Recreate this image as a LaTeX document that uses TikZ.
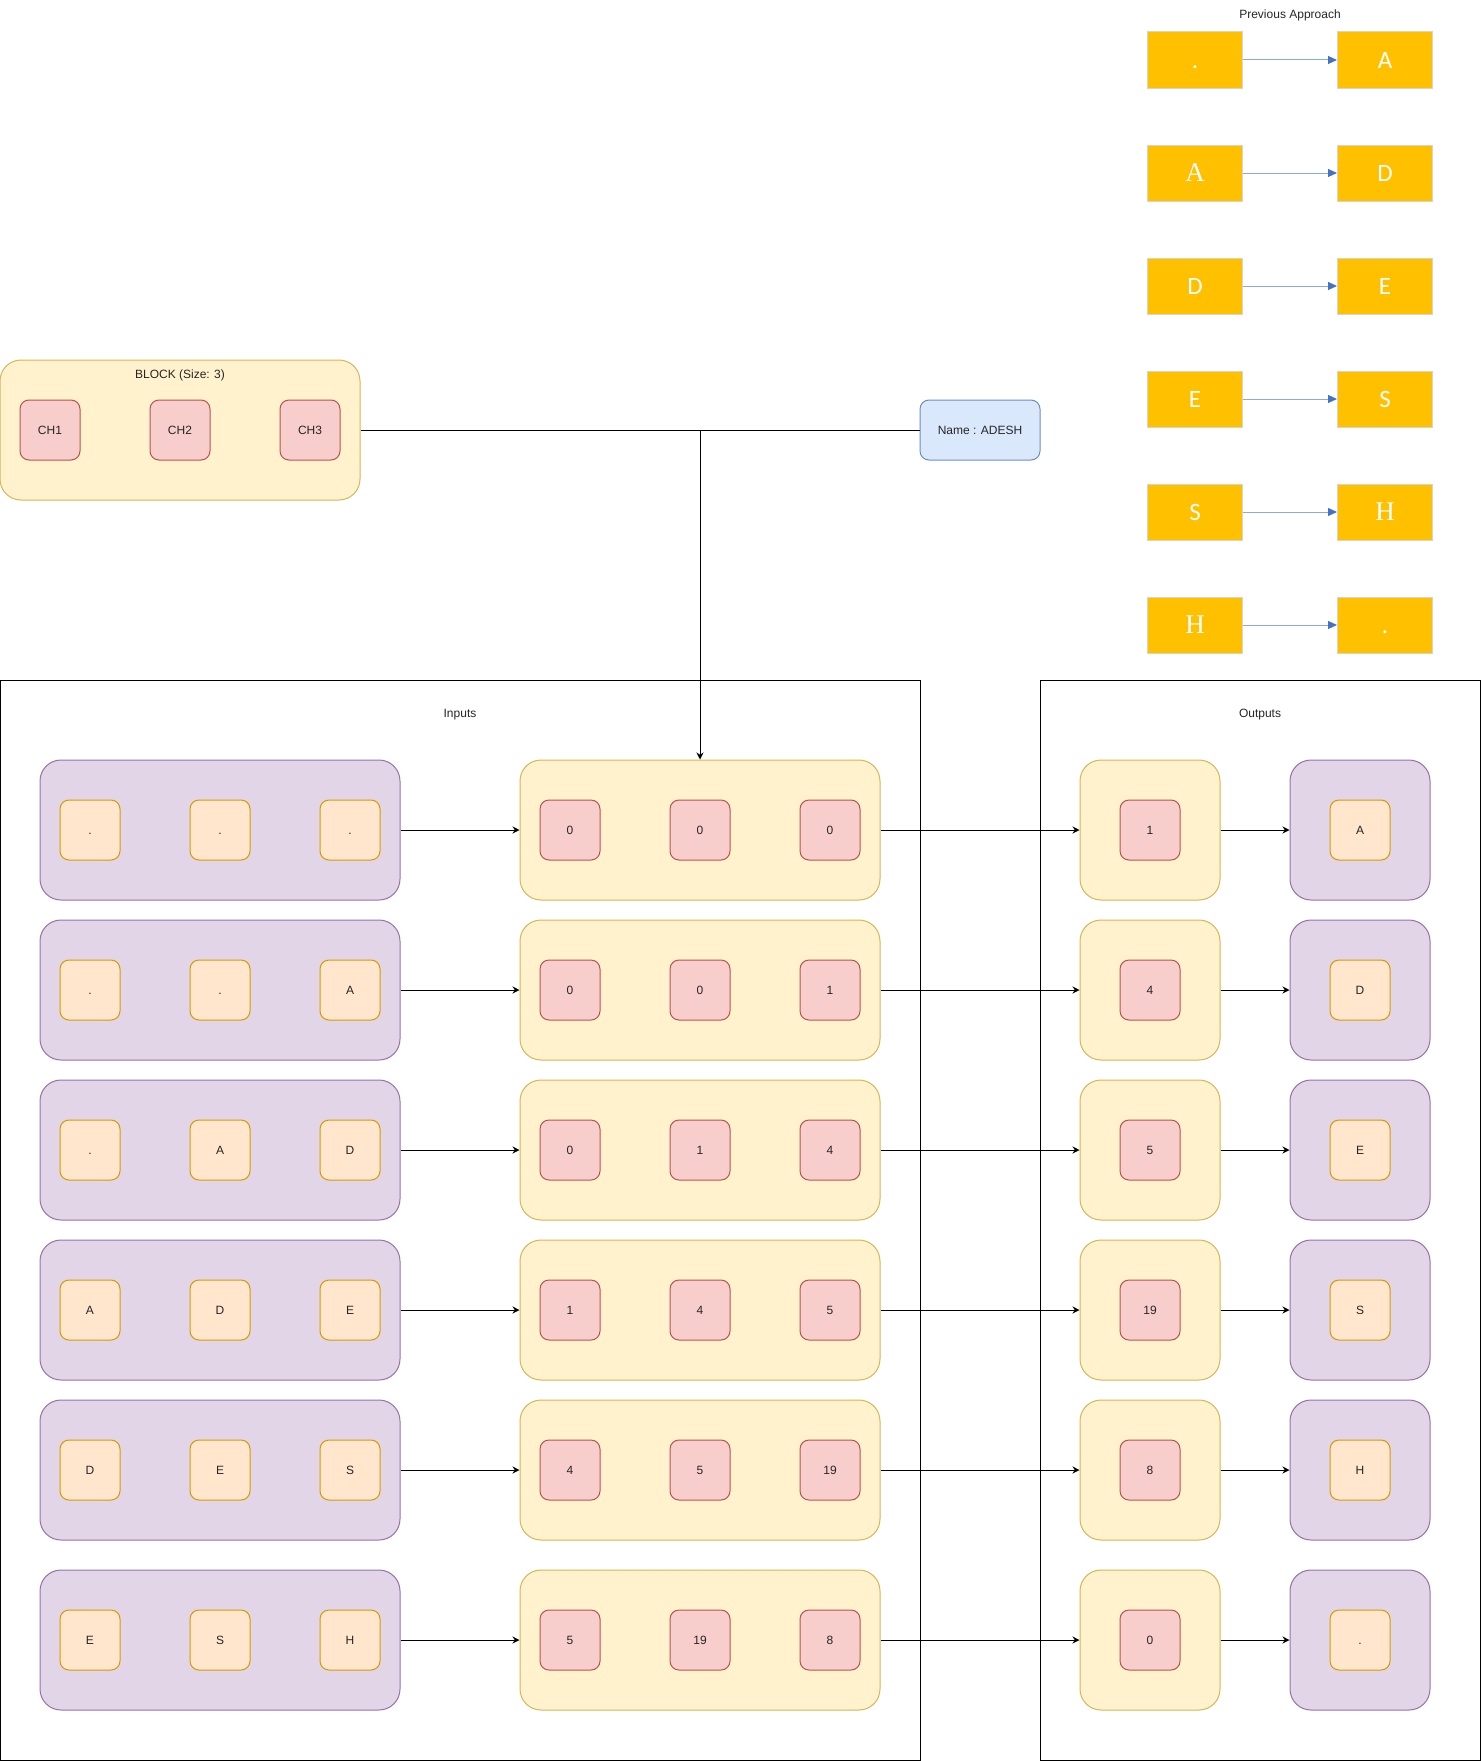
\documentclass[tikz,border=0pt]{standalone}
\usepackage{fontspec}
\setmainfont{Liberation Sans}
\newfontfamily\goldsansfam{Carlito}
\newfontfamily\goldseriffam{Liberation Serif}
\usetikzlibrary{arrows.meta}
\definecolor{yelfill}{HTML}{FFF2CC}
\definecolor{yeldraw}{HTML}{D6B656}
\definecolor{purfill}{HTML}{E1D5E7}
\definecolor{purdraw}{HTML}{9673A6}
\definecolor{redfill}{HTML}{F8CECC}
\definecolor{reddraw}{HTML}{B85450}
\definecolor{orgfill}{HTML}{FFE6CC}
\definecolor{orgdraw}{HTML}{D79B00}
\definecolor{bluefill}{HTML}{DAE8FC}
\definecolor{bluedraw}{HTML}{6C8EBF}
\definecolor{goldc}{HTML}{FFC000}
\definecolor{goldline}{HTML}{D4D4D4}
\definecolor{lineblue}{HTML}{8EAADB}
\definecolor{tipblue}{HTML}{4472C4}
\newcommand{\goldsans}{\goldsansfam\fontsize{25}{30}\selectfont}
\newcommand{\goldserif}{\goldseriffam\fontsize{27}{32}\selectfont}
\tikzset{
  lbl/.style={font=\fontsize{12}{14}\selectfont,text=black!85},
  grp/.style={rounded corners=21pt,minimum width=360pt,minimum height=140pt,inner sep=0pt,line width=1pt},
  unit/.style={grp,minimum width=140pt},
  cell/.style={rounded corners=9pt,minimum size=60pt,inner sep=0pt,line width=1pt,
    font=\fontsize{12}{14}\selectfont,text=black!85,text height=8.6pt,text depth=0pt},
  chr/.style={cell,fill=orgfill,draw=orgdraw},
  num/.style={cell,fill=redfill,draw=reddraw},
  frame/.style={rectangle,draw=black,line width=1pt,minimum width=920pt,minimum height=1080pt,inner sep=0pt},
  namebox/.style={rounded corners=9pt,fill=bluefill,draw=bluedraw,line width=1pt,minimum width=120pt,
    minimum height=60pt,inner sep=0pt,font=\fontsize{12}{14}\selectfont,text=black!85},
  gold/.style={rectangle,fill=goldc,draw=goldline,line width=1pt,minimum width=95pt,minimum height=56pt,
    inner sep=0pt,text=white,text height=17pt,text depth=0pt},
  plain/.style={line width=1pt,black},
  flow/.style={-{Stealth[length=7pt,width=7pt]},line width=1pt,black},
  link/.style={-{Triangle[length=9pt,width=8pt,color=tipblue]},draw=lineblue,line width=1pt},
}
\begin{document}
\begin{tikzpicture}[x=1pt,y=-1pt]
  \useasboundingbox (0,0) rectangle (1481,1761);
  % containers
  \node[frame] (inputs) at (460,1220) {};
  \node[frame,minimum width=440pt] (outputs) at (1260,1220) {};
  \node[lbl] (inlbl) at (460,715) {Inputs};
  \node[lbl] (outlbl) at (1260,715) {Outputs};
  % block and name
  \node[grp,fill=yelfill,draw=yeldraw] (block) at (180,430) {};
  \node[lbl] (blocklbl) at (180,375) {BLOCK (Size: 3)};
  \foreach \j/\xx in {1/50,2/180,3/310}
    \node[num] (ch\j) at (\xx,430) {CH\j};
  \node[namebox] (name) at (980,430) {Name : ADESH};
  \coordinate (junc) at (700,430);
  % rows
  \foreach \i/\yy/\ia/\ib/\ic/\na/\nb/\nc/\nout/\cout in {
      1/830/./././0/0/0/1/A,
      2/990/././A/0/0/1/4/D,
      3/1150/./A/D/0/1/4/5/E,
      4/1310/A/D/E/1/4/5/19/S,
      5/1470/D/E/S/4/5/19/8/H,
      6/1640/E/S/H/5/19/8/0/.}
  {
    \node[grp,fill=purfill,draw=purdraw] (seq\i) at (220,\yy) {};
    \node[chr] (seq\i-a) at (90,\yy) {\ia};
    \node[chr] (seq\i-b) at (220,\yy) {\ib};
    \node[chr] (seq\i-c) at (350,\yy) {\ic};
    \node[grp,fill=yelfill,draw=yeldraw] (code\i) at (700,\yy) {};
    \node[num] (code\i-a) at (570,\yy) {\na};
    \node[num] (code\i-b) at (700,\yy) {\nb};
    \node[num] (code\i-c) at (830,\yy) {\nc};
    \node[unit,fill=yelfill,draw=yeldraw] (pred\i) at (1150,\yy) {};
    \node[num] (pred\i-x) at (1150,\yy) {\nout};
    \node[unit,fill=purfill,draw=purdraw] (next\i) at (1360,\yy) {};
    \node[chr] (next\i-x) at (1360,\yy) {\cout};
    \draw[flow] (seq\i) -- (code\i);
    \draw[flow] (code\i) -- (pred\i);
    \draw[flow] (pred\i) -- (next\i);
  }
  \draw[plain] (block) -- (name);
  \draw[flow] (junc) -- (code1.north);
  % previous approach
  \node[lbl] (prevlbl) at (1290,15) {Previous Approach};
  \foreach \k/\yy/\pa/\fa/\pb/\fb in {1/60/./\goldsans/A/\goldsans, 2/173/A/\goldserif/D/\goldsans,
      3/286/D/\goldsans/E/\goldsans, 4/399/E/\goldsans/S/\goldsans,
      5/512/S/\goldsans/H/\goldserif, 6/625/H/\goldserif/./\goldsans}
  {
    \node[gold] (prev\k) at (1195,\yy) {\fa\pa};
    \node[gold] (after\k) at (1385,\yy) {\fb\pb};
    \draw[link] (prev\k) -- (after\k);
  }
\end{tikzpicture}
\end{document}
